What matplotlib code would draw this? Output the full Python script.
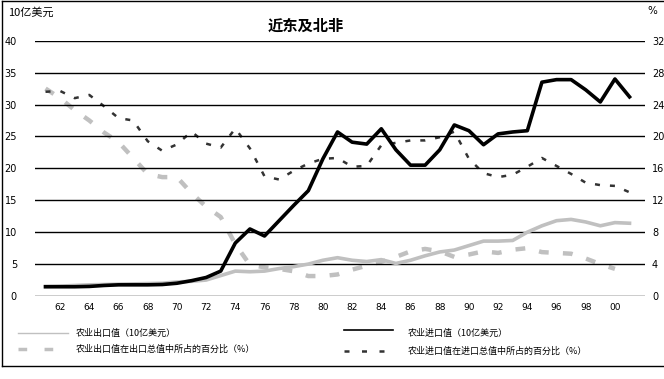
import matplotlib
matplotlib.use('Agg')
import matplotlib.pyplot as plt
from matplotlib.lines import Line2D
import numpy as np

plt.rcParams['font.family'] = ['Noto Sans CJK SC', 'DejaVu Sans']

# data, 1961-2001
years = list(range(1961, 2002))

# agricultural imports, billion US$
imp_val = [1.45, 1.45, 1.45, 1.5, 1.65, 1.75, 1.75, 1.75, 1.8, 2.0,
           2.4, 2.9, 3.9, 8.3, 10.5, 9.4, 11.8, 14.2, 16.5, 21.5,
           25.7, 24.1, 23.8, 26.2, 22.9, 20.5, 20.5, 22.9, 26.8, 25.9,
           23.7, 25.4, 25.7, 25.9, 33.5, 33.9, 33.9, 32.3, 30.4, 34.0, 31.2]

# agricultural exports, billion US$
exp_val = [1.5, 1.55, 1.65, 1.75, 1.8, 1.85, 1.9, 1.95, 2.0, 2.2,
           2.3, 2.5, 3.2, 3.9, 3.8, 3.9, 4.3, 4.6, 5.0, 5.6,
           6.0, 5.6, 5.4, 5.7, 5.1, 5.6, 6.3, 6.9, 7.2, 7.9,
           8.6, 8.6, 8.7, 10.0, 11.0, 11.8, 12.0, 11.6, 11.0, 11.5, 11.4]

# share of agri exports in total exports, %
exp_pct = [26.0, 24.8, 23.3, 22.0, 20.5, 19.3, 17.3, 15.3, 14.9, 14.9,
           12.9, 11.2, 9.9, 6.5, 3.9, 3.6, 3.4, 3.1, 2.5, 2.5,
           2.7, 3.3, 3.8, 4.3, 4.9, 5.6, 5.9, 5.6, 4.9, 5.2,
           5.6, 5.4, 5.8, 6.0, 5.5, 5.4, 5.3, 4.7, 4.0, 3.4]

# share of agri imports in total imports, %
imp_pct = [25.6, 25.7, 24.8, 25.2, 23.8, 22.3, 22.0, 19.4, 18.2, 19.0,
           20.6, 19.1, 18.6, 21.0, 18.5, 15.0, 14.6, 15.7, 16.6, 17.2,
           17.3, 16.2, 16.3, 18.9, 19.2, 19.5, 19.5, 19.9, 20.6, 17.2,
           15.4, 14.9, 15.2, 16.2, 17.3, 16.3, 15.3, 14.2, 13.9, 13.8, 13.0]

xticks = list(range(1962, 2001, 2))
xlabels = ['%02d' % (y % 100) for y in xticks]
left_ticks = [0, 5, 10, 15, 20, 25, 30, 35, 40]
right_ticks = [0, 4, 8, 12, 16, 20, 24, 28, 32]

W, H = 664, 379
fig = plt.figure(figsize=(W / 100, H / 100), dpi=100)

def fx(px):
    return px / W

def fy(py):
    return 1 - py / H

ax = fig.add_axes([fx(35), fy(296), fx(645) - fx(35), fy(40.7) - fy(296)])
ax.set_xlim(1960.28, 2002.06)
ax.set_ylim(0, 40)
for s in ax.spines.values():
    s.set_visible(False)
for v in left_ticks:
    ax.axhline(v, color='black', lw=1.0, zorder=1)

ax2 = ax.twinx()
ax2.set_ylim(0, 32)
for s in ax2.spines.values():
    s.set_visible(False)

ax2.plot(years[:len(exp_pct)], exp_pct, color='#c0c0c0', lw=3.2,
         dashes=(2.2, 3.2), zorder=2)
ax2.plot(years, imp_pct, color='#333333', lw=1.8, dashes=(2.0, 4.0), zorder=3)
ax.plot(years, exp_val, color='#c0c0c0', lw=2.6, zorder=4)
ax.plot(years, imp_val, color='black', lw=2.6, zorder=5)
ax.set_zorder(ax2.get_zorder() + 1)
ax.patch.set_visible(False)

ax.set_xticks(xticks)
ax.set_xticklabels(xlabels, fontsize=6.5, family='DejaVu Sans')
ax.set_yticks(left_ticks)
ax.set_yticklabels([str(v) for v in left_ticks], fontsize=7, family='DejaVu Sans')
ax.tick_params(axis='x', length=0, pad=5)
ax.tick_params(axis='y', length=0, pad=13)
ax2.set_yticks(right_ticks)
ax2.set_yticklabels([str(v) for v in right_ticks], fontsize=7, family='DejaVu Sans')
ax2.tick_params(axis='y', length=0, pad=5)

fig.text(fx(8), fy(13), '10亿美元', fontsize=8, va='center', ha='left')
fig.text(fx(652), fy(11), '%', fontsize=7.5, va='center', ha='center',
         family='DejaVu Sans')
fig.text(fx(306), fy(26), '近东及北非', fontsize=11, fontweight='bold',
         va='center', ha='center')

# legend
fig.add_artist(Line2D([fx(18), fx(68)], [fy(333), fy(333)], color='#c0c0c0', lw=1.0))
fig.add_artist(Line2D([fx(18), fx(68)], [fy(349), fy(349)], color='#c0c0c0', lw=2.5,
                      dashes=(2.5, 5.0)))
fig.add_artist(Line2D([fx(344), fx(393)], [fy(330), fy(330)], color='black', lw=1.2))
fig.add_artist(Line2D([fx(344), fx(393)], [fy(351), fy(351)], color='#333333', lw=1.8,
                      dashes=(2.0, 5.0)))
fig.text(fx(76), fy(333), '农业出口值（10亿美元）', fontsize=6.5, va='center')
fig.text(fx(76), fy(349), '农业出口值在出口总值中所占的百分比（%）', fontsize=6.5, va='center')
fig.text(fx(408), fy(333), '农业进口值（10亿美元）', fontsize=6.5, va='center')
fig.text(fx(408), fy(351), '农业进口值在进口总值中所占的百分比（%）', fontsize=6.5, va='center')

# outer frame
fig.add_artist(Line2D([fx(2), fx(663)], [fy(1), fy(1)], color='black', lw=1.0))
fig.add_artist(Line2D([fx(2), fx(2)], [fy(1), fy(366)], color='black', lw=1.0))
fig.add_artist(Line2D([fx(2), fx(663)], [fy(366), fy(366)], color='black', lw=1.0))

fig.savefig('out.png', dpi=100)
